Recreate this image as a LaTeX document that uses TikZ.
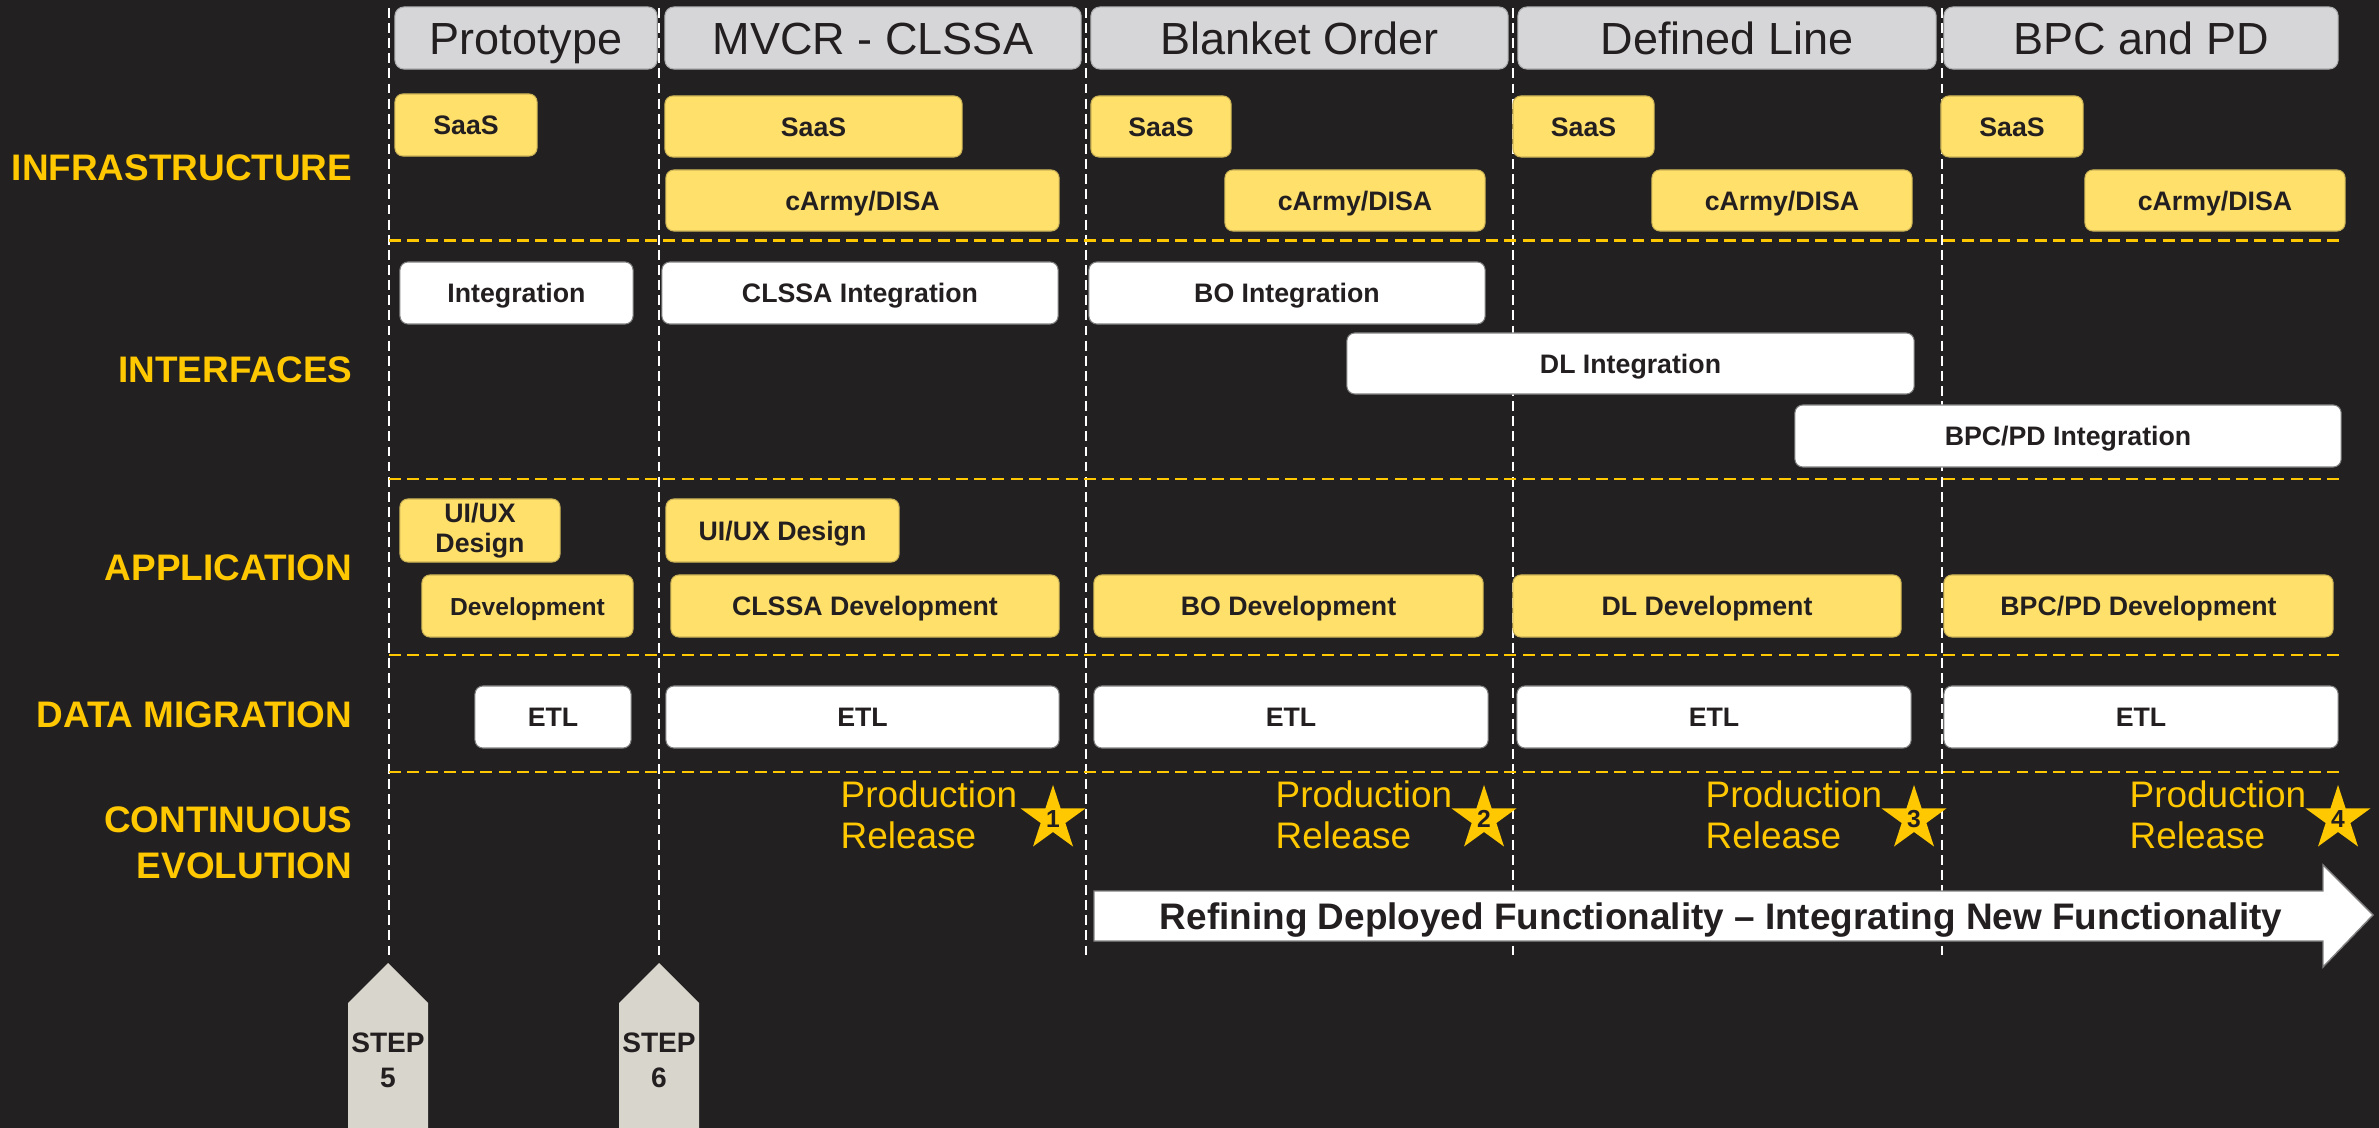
\documentclass[tikz,border=0pt]{standalone}
\usepackage{fontspec}
\setmainfont{Liberation Sans}
\usetikzlibrary{shapes.geometric}
\definecolor{bg}{HTML}{222021}
\definecolor{gold}{HTML}{FFC800}
\definecolor{boxyel}{HTML}{FFE06B}
\definecolor{hdrgray}{HTML}{D6D6D8}
\definecolor{stepgray}{HTML}{D8D5CC}
\definecolor{dark}{HTML}{231F20}
\tikzset{
  hdr/.style={fill=hdrgray, draw=hdrgray!80!black, line width=0.3pt, rounded corners=0.09cm, inner sep=0pt, text=dark, text height=9.2pt, text depth=0pt, font=\fontsize{12.8}{14}\selectfont},
  ybox/.style={fill=boxyel, draw=boxyel!80!black, line width=0.3pt, rounded corners=0.08cm, inner sep=0pt, text=dark, align=center, text height=5.45pt, text depth=0pt, font=\bfseries\fontsize{7.6}{9.2}\selectfont},
  wbox/.style={fill=white, draw=gray, line width=0.3pt, rounded corners=0.08cm, inner sep=0pt, text=dark, align=center, text height=5.45pt, text depth=0pt, font=\bfseries\fontsize{7.6}{9.2}\selectfont},
  rowlbl/.style={anchor=east, inner sep=0pt, text=gold, align=right, font=\bfseries\fontsize{10.5}{13}\selectfont},
  vline/.style={white, line width=0.55pt, dash pattern=on 2.8pt off 1.5pt},
  hline/.style={gold, line width=0.85pt, dash pattern=on 3.4pt off 1.8pt},
  prod/.style={anchor=base west, inner sep=0pt, text=gold, font=\fontsize{10.5}{12}\selectfont},
  relstar/.style={star, star points=5, star point ratio=2.618, fill=gold, minimum size=0.68cm, inner sep=0pt, text=dark, font=\bfseries\fontsize{7}{8}\selectfont},
  stepshape/.style={fill=stepgray},
  steptext/.style={inner sep=0pt, text=dark, align=center, font=\bfseries\fontsize{8}{10}\selectfont},
}
\begin{document}
\begin{tikzpicture}[x=0.01cm, y=-0.01cm]
\path[use as bounding box, fill=bg] (0,0) rectangle (2379,1128);

% vertical dashed lines
\coordinate (v1t) at (389,8);  \coordinate (v1b) at (389,955);
\coordinate (v2t) at (659,8);  \coordinate (v2b) at (659,955);
\coordinate (v3t) at (1086,8); \coordinate (v3b) at (1086,955);
\coordinate (v4t) at (1513,8); \coordinate (v4b) at (1513,955);
\coordinate (v5t) at (1942,8); \coordinate (v5b) at (1942,955);
\foreach \i in {1,...,5} {\draw[vline] (v\i t) -- (v\i b);}

% horizontal dashed lines
\coordinate (h1l) at (389,241); \coordinate (h1r) at (2340,241);
\coordinate (h2l) at (389,479); \coordinate (h2r) at (2340,479);
\coordinate (h3l) at (389,655); \coordinate (h3r) at (2340,655);
\coordinate (h4l) at (389,772); \coordinate (h4r) at (2340,772);
\foreach \i in {1,...,4} {\draw[hline] (h\i l) -- (h\i r);}

% headers
\node[hdr, minimum width=2.62cm, minimum height=0.62cm] (hd1) at (526,38) {Prototype};
\node[hdr, minimum width=4.16cm, minimum height=0.62cm] (hd2) at (873,38) {MVCR - CLSSA};
\node[hdr, minimum width=4.17cm, minimum height=0.62cm] (hd3) at (1299.5,38) {Blanket Order};
\node[hdr, minimum width=4.18cm, minimum height=0.62cm] (hd4) at (1727,38) {Defined Line};
\node[hdr, minimum width=3.94cm, minimum height=0.62cm] (hd5) at (2141,38) {BPC and PD};

% row labels
\node[rowlbl] (lb1) at (353,168) {INFRASTRUCTURE};
\node[rowlbl] (lb2) at (353,370) {INTERFACES};
\node[rowlbl] (lb3) at (353,568) {APPLICATION};
\node[rowlbl] (lb4) at (353,715) {DATA MIGRATION};
\node[rowlbl] (lb5) at (353,843) {CONTINUOUS\\EVOLUTION};

% infrastructure
\node[ybox, minimum width=1.42cm, minimum height=0.62cm] (s1) at (466,125) {SaaS};
\node[ybox, minimum width=2.97cm, minimum height=0.61cm] (s2) at (813.5,126.5) {SaaS};
\node[ybox, minimum width=3.93cm, minimum height=0.61cm] (c2) at (862.5,200.5) {cArmy/DISA};
\node[ybox, minimum width=1.40cm, minimum height=0.61cm] (s3) at (1161,126.5) {SaaS};
\node[ybox, minimum width=2.60cm, minimum height=0.61cm] (c3) at (1355,200.5) {cArmy/DISA};
\node[ybox, minimum width=1.41cm, minimum height=0.61cm] (s4) at (1583.5,126.5) {SaaS};
\node[ybox, minimum width=2.60cm, minimum height=0.61cm] (c4) at (1782,200.5) {cArmy/DISA};
\node[ybox, minimum width=1.42cm, minimum height=0.61cm] (s5) at (2012,126.5) {SaaS};
\node[ybox, minimum width=2.60cm, minimum height=0.61cm] (c5) at (2215,200.5) {cArmy/DISA};

% interfaces
\node[wbox, minimum width=2.33cm, minimum height=0.62cm] (i1) at (516.5,293) {Integration};
\node[wbox, minimum width=3.96cm, minimum height=0.62cm] (i2) at (860,293) {CLSSA Integration};
\node[wbox, minimum width=3.96cm, minimum height=0.62cm] (i3) at (1287,293) {BO Integration};
\node[wbox, minimum width=5.67cm, minimum height=0.61cm] (i4) at (1630.5,363.5) {DL Integration};
\node[wbox, minimum width=5.46cm, minimum height=0.62cm] (i5) at (2068,436) {BPC/PD Integration};

% application
\node[ybox, text height=, text depth=, minimum width=1.60cm, minimum height=0.63cm, font=\bfseries\fontsize{7.6}{8.6}\selectfont] (u1) at (480,530.5) {UI/UX\\Design};
\node[ybox, minimum width=2.11cm, minimum height=0.62cm, font=\bfseries\fontsize{7}{8.4}\selectfont] (d1) at (527.5,606) {Development};
\node[ybox, minimum width=2.33cm, minimum height=0.63cm] (u2) at (782.5,530.5) {UI/UX Design};
\node[ybox, minimum width=3.88cm, minimum height=0.62cm] (d2) at (865,606) {CLSSA Development};
\node[ybox, minimum width=3.89cm, minimum height=0.62cm] (d3) at (1288.5,606) {BO Development};
\node[ybox, minimum width=3.88cm, minimum height=0.62cm] (d4) at (1707,606) {DL Development};
\node[ybox, minimum width=3.89cm, minimum height=0.62cm] (d5) at (2138.5,606) {BPC/PD Development};

% data migration
\node[wbox, minimum width=1.56cm, minimum height=0.62cm] (e1) at (553,717) {ETL};
\node[wbox, minimum width=3.93cm, minimum height=0.62cm] (e2) at (862.5,717) {ETL};
\node[wbox, minimum width=3.94cm, minimum height=0.62cm] (e3) at (1291,717) {ETL};
\node[wbox, minimum width=3.94cm, minimum height=0.62cm] (e4) at (1714,717) {ETL};
\node[wbox, minimum width=3.94cm, minimum height=0.62cm] (e5) at (2141,717) {ETL};

% production releases
\node[prod] (pa1) at (840,807) {Production};
\node[prod] (pb1) at (840,848) {Release};
\node[relstar] (st1) at (1053,819) {1};
\node[prod] (pa2) at (1275,807) {Production};
\node[prod] (pb2) at (1275,848) {Release};
\node[relstar] (st2) at (1484,819) {2};
\node[prod] (pa3) at (1705,807) {Production};
\node[prod] (pb3) at (1705,848) {Release};
\node[relstar] (st3) at (1914,819) {3};
\node[prod] (pa4) at (2129,807) {Production};
\node[prod] (pb4) at (2129,848) {Release};
\node[relstar] (st4) at (2338,819) {4};

% big arrow
\draw[fill=white, draw=gray, line width=0.4pt] (1094,891) -- (2323,891) -- (2323,865) -- (2373,915) -- (2323,967) -- (2323,941) -- (1094,941) -- cycle;
\node[inner sep=0pt, text=dark, text height=7.5pt, text depth=0pt, font=\bfseries\fontsize{10.5}{12}\selectfont] (arr) at (1721,916) {Refining Deployed Functionality – Integrating New Functionality};

% steps
\fill[stepshape] (348,1128) -- (348,1003) -- (388,963) -- (428,1003) -- (428,1128) -- cycle;
\node[steptext] (stp5) at (388,1060) {STEP\\5};
\fill[stepshape] (619,1128) -- (619,1003) -- (659,963) -- (699,1003) -- (699,1128) -- cycle;
\node[steptext] (stp6) at (659,1060) {STEP\\6};
\end{tikzpicture}
\end{document}
